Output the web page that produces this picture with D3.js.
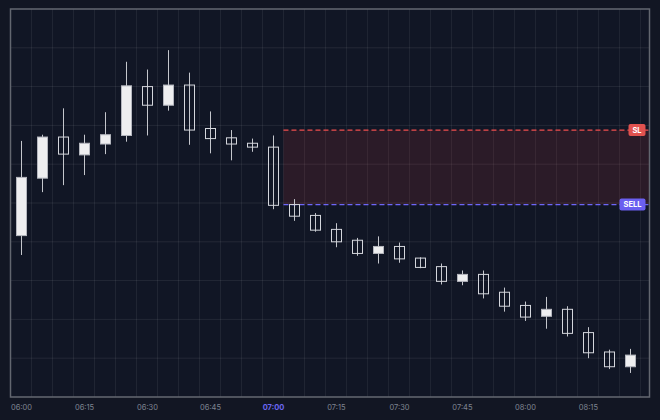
<!DOCTYPE html>
<html lang="en">
<head>
<meta charset="utf-8">
<title>Candles with SL / SELL zone</title>
<script src="https://cdn.jsdelivr.net/npm/d3@7"></script>
<style>
  html, body { margin: 0; padding: 0; background: #121623; }
  svg { display: block; }
  .tick text { font-family: Inter, "DejaVu Sans", sans-serif; }
</style>
</head>
<body>
<script>
// candle times (5 min bars)
var times = ["06:00","06:05","06:10","06:15","06:20","06:25","06:30","06:35","06:40","06:45",
             "06:50","06:55","07:00","07:05","07:10","07:15","07:20","07:25","07:30","07:35",
             "07:40","07:45","07:50","07:55","08:00","08:05","08:10","08:15","08:20","08:25"];
var opens  = [2320.8,2328.2,2333.5,2331.2,2332.6,2333.7,2340.0,2337.6,2340.2,2334.6,
              2333.4,2332.7,2332.2,2324.8,2323.4,2321.6,2320.2,2318.5,2319.4,2317.9,
              2316.8,2314.9,2315.8,2313.5,2311.8,2310.4,2311.3,2308.3,2305.8,2303.9];
var highs  = [2333.0,2333.8,2337.2,2333.8,2336.7,2343.2,2342.2,2344.7,2341.8,2336.8,
              2334.4,2333.3,2333.7,2325.5,2323.7,2322.4,2320.5,2320.7,2319.9,2318.0,
              2317.2,2316.3,2316.3,2314.1,2312.3,2312.9,2311.7,2309.0,2306.1,2306.2];
var lows   = [2318.3,2326.4,2327.3,2328.6,2331.3,2332.9,2333.7,2336.9,2332.5,2331.4,
              2330.5,2331.6,2324.2,2322.7,2321.3,2319.3,2318.2,2317.2,2317.3,2316.6,
              2314.5,2314.4,2312.7,2311.0,2309.8,2308.8,2307.8,2305.0,2303.6,2303.1];
var closes = [2328.3,2333.5,2331.3,2332.7,2333.8,2340.1,2337.6,2340.2,2334.4,2333.3,
              2332.6,2332.2,2324.7,2323.3,2321.5,2320.0,2318.5,2319.4,2317.8,2316.7,
              2314.9,2315.8,2313.3,2311.7,2310.3,2311.3,2308.2,2305.7,2303.9,2305.4];

var priceDomain = [2300, 2350];
var timeDomain = ["05:57:30", "08:29:40"];
var slPrice = 2334.4;
var entryPrice = 2324.8;
var entryTime = "07:00";

var W = 660, H = 420;
var pLeft = 10.5, pRight = 649.5, pTop = 9, pBottom = 397;

var parse = d3.timeParse("%H:%M");
var parseS = d3.timeParse("%H:%M:%S");
var fmt = d3.timeFormat("%H:%M");
var data = times.map(function(t, i) {
  return { t: parse(t), o: opens[i], h: highs[i], l: lows[i], c: closes[i] };
});

var half = 2.5 * 60 * 1000;
var x = d3.scaleTime()
  .domain(timeDomain.map(parseS))
  .range([pLeft, pRight]);
var y = d3.scaleLinear().domain(priceDomain).range([pBottom, pTop]);

var svg = d3.select("body").append("svg")
  .attr("width", W)
  .attr("height", H);

svg.append("rect")
  .attr("width", W).attr("height", H)
  .attr("fill", "#121623");

svg.append("rect")
  .attr("x", pLeft).attr("y", pTop)
  .attr("width", pRight - pLeft).attr("height", pBottom - pTop)
  .attr("fill", "#111625");

// grid
var grid = svg.append("g");
var vlines = data.map(function(d) { return new Date(d.t.getTime() - half); });
vlines.push(new Date(data[data.length - 1].t.getTime() + half));
grid.selectAll(".vg").data(vlines).enter().append("line")
  .attr("x1", function(d) { return x(d); })
  .attr("x2", function(d) { return x(d); })
  .attr("y1", pTop).attr("y2", pBottom)
  .attr("stroke", "#ffffff").attr("stroke-opacity", 0.07);
grid.selectAll(".hg").data(y.ticks(10)).enter().append("line")
  .attr("x1", pLeft).attr("x2", pRight)
  .attr("y1", function(d) { return y(d); })
  .attr("y2", function(d) { return y(d); })
  .attr("stroke", "#ffffff").attr("stroke-opacity", 0.08);

// SL zone
var zoneStart = x(new Date(parse(entryTime).getTime() + half));
svg.append("rect")
  .attr("x", zoneStart)
  .attr("y", y(slPrice))
  .attr("width", pRight - zoneStart)
  .attr("height", y(entryPrice) - y(slPrice))
  .attr("fill", "#ef4444").attr("fill-opacity", 0.12);

svg.append("line")
  .attr("x1", zoneStart).attr("x2", pRight)
  .attr("y1", y(slPrice)).attr("y2", y(slPrice))
  .attr("stroke", "#ef4f4f").attr("stroke-width", 1.2)
  .attr("stroke-dasharray", "5,3");
svg.append("line")
  .attr("x1", zoneStart).attr("x2", pRight)
  .attr("y1", y(entryPrice)).attr("y2", y(entryPrice))
  .attr("stroke", "#6d66f8").attr("stroke-width", 1.2)
  .attr("stroke-dasharray", "5,3");

// candles
var bw = 10;
var candles = svg.append("g").selectAll("g").data(data).enter().append("g");
candles.append("line")
  .attr("x1", function(d) { return Math.round(x(d.t)) + 0.5; })
  .attr("x2", function(d) { return Math.round(x(d.t)) + 0.5; })
  .attr("y1", function(d) { return y(d.h); })
  .attr("y2", function(d) { return y(d.l); })
  .attr("stroke", "#c4c6cc").attr("stroke-width", 1);
candles.append("rect")
  .attr("x", function(d) { return Math.round(x(d.t)) + 0.5 - bw / 2; })
  .attr("y", function(d) { return y(Math.max(d.o, d.c)); })
  .attr("width", bw)
  .attr("height", function(d) { return Math.max(1, Math.abs(y(d.o) - y(d.c))); })
  .attr("fill", function(d) { return d.c > d.o ? "#eeeef0" : "none"; })
  .attr("stroke", function(d) { return d.c > d.o ? "#b4b6be" : "#d4d6dc"; })
  .attr("stroke-width", 1);

// border
svg.append("rect")
  .attr("x", pLeft).attr("y", pTop)
  .attr("width", pRight - pLeft).attr("height", pBottom - pTop)
  .attr("fill", "none")
  .attr("stroke", "#62666f").attr("stroke-width", 1.5);

// badges
function badge(price, label, color, w) {
  var g = svg.append("g");
  g.append("rect")
    .attr("x", 645.5 - w).attr("y", y(price) - 6)
    .attr("width", w).attr("height", 12)
    .attr("rx", 2)
    .attr("fill", color);
  g.append("text")
    .attr("x", 645.5 - w / 2).attr("y", y(price) + 0.5)
    .attr("text-anchor", "middle")
    .attr("dominant-baseline", "middle")
    .attr("font-family", "Inter, 'DejaVu Sans', sans-serif")
    .attr("font-size", 7.5)
    .attr("font-weight", 700)
    .attr("fill", "#ffffff")
    .text(label);
}
badge(slPrice, "SL", "#e0524f", 17);
badge(entryPrice, "SELL", "#6a5ff0", 26);

// time axis
var axis = svg.append("g")
  .attr("transform", "translate(0," + pBottom + ")")
  .call(d3.axisBottom(x)
    .ticks(d3.timeMinute.every(15))
    .tickFormat(fmt)
    .tickSize(0)
    .tickPadding(8));
axis.select(".domain").remove();
axis.selectAll("text")
  .attr("font-size", 7.5)
  .attr("fill", function(d) { return fmt(d) === entryTime ? "#6b66f2" : "#7f8491"; })
  .attr("font-weight", function(d) { return fmt(d) === entryTime ? 700 : 400; });
</script>
</body>
</html>
